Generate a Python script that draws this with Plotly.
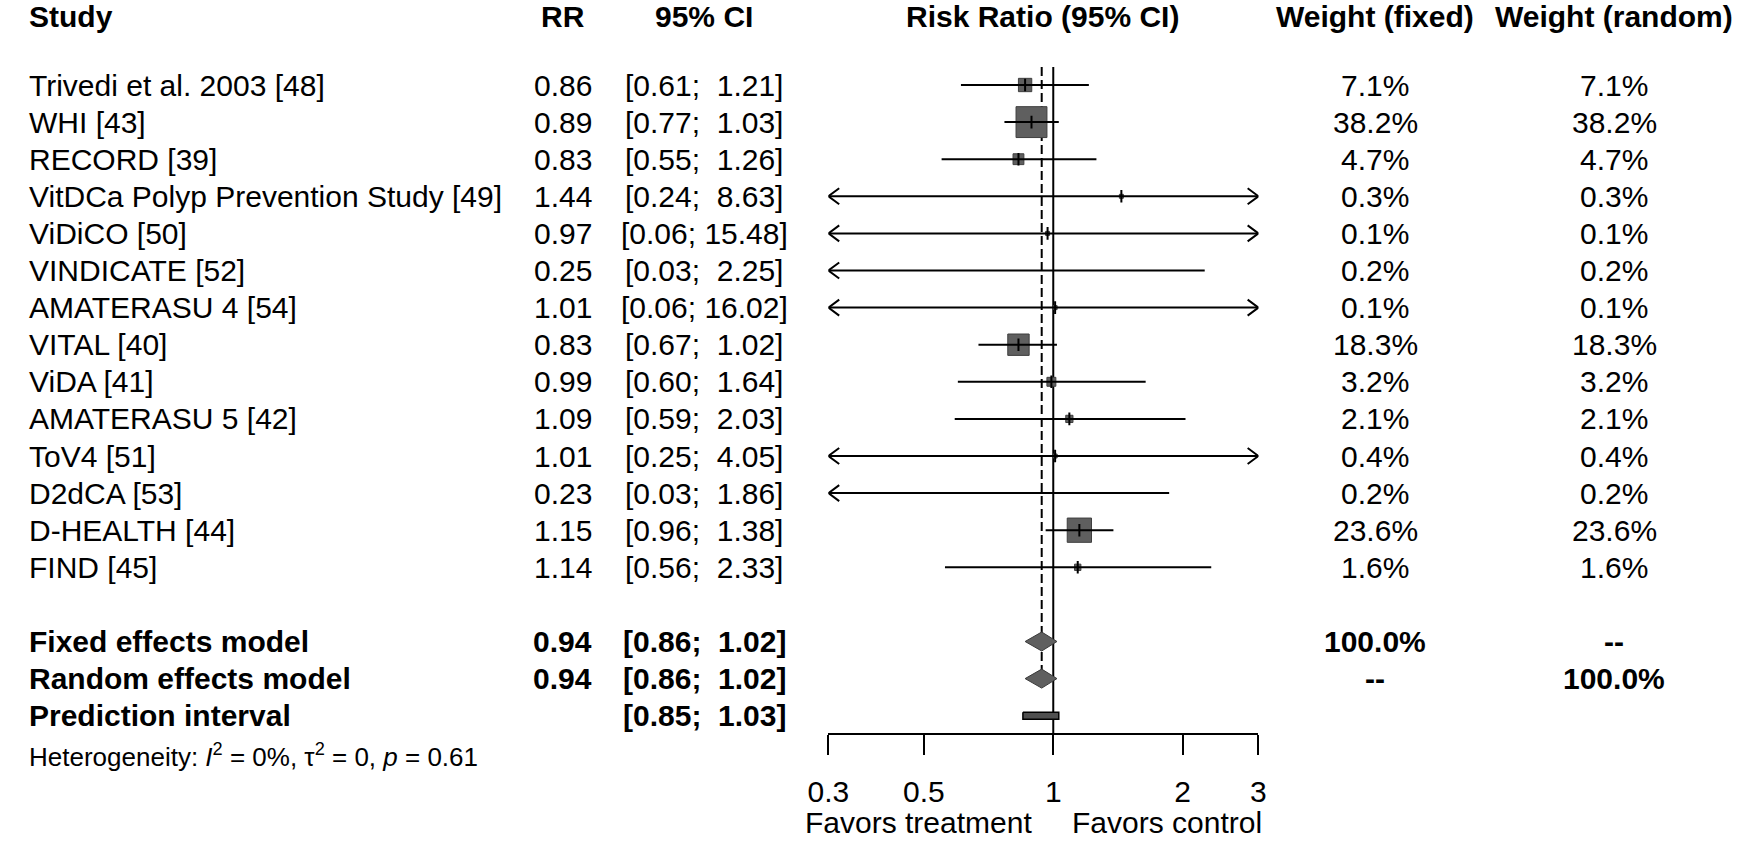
import math
import plotly.graph_objects as go

# ---------------- data ----------------
studies = ["Trivedi et al. 2003 [48]", "WHI [43]", "RECORD [39]",
           "VitDCa Polyp Prevention Study [49]", "ViDiCO [50]", "VINDICATE [52]",
           "AMATERASU 4 [54]", "VITAL [40]", "ViDA [41]", "AMATERASU 5 [42]",
           "ToV4 [51]", "D2dCA [53]", "D-HEALTH [44]", "FIND [45]"]
rr = [0.86, 0.89, 0.83, 1.44, 0.97, 0.25, 1.01, 0.83, 0.99, 1.09, 1.01, 0.23, 1.15, 1.14]
ci_low = [0.61, 0.77, 0.55, 0.24, 0.06, 0.03, 0.06, 0.67, 0.60, 0.59, 0.25, 0.03, 0.96, 0.56]
ci_high = [1.21, 1.03, 1.26, 8.63, 15.48, 2.25, 16.02, 1.02, 1.64, 2.03, 4.05, 1.86, 1.38, 2.33]
w_fixed = [7.1, 38.2, 4.7, 0.3, 0.1, 0.2, 0.1, 18.3, 3.2, 2.1, 0.4, 0.2, 23.6, 1.6]
w_random = [7.1, 38.2, 4.7, 0.3, 0.1, 0.2, 0.1, 18.3, 3.2, 2.1, 0.4, 0.2, 23.6, 1.6]

summary_labels = ["Fixed effects model", "Random effects model", "Prediction interval"]
fixed_est, fixed_low, fixed_high = 0.94, 0.86, 1.02
random_est, random_low, random_high = 0.94, 0.86, 1.02
pred_low, pred_high = 0.85, 1.03
summary_wfixed = ["100.0%", "--"]
summary_wrandom = ["--", "100.0%"]

headers = ["Study", "RR", "95% CI", "Risk Ratio (95% CI)", "Weight (fixed)", "Weight (random)"]
tick_vals = [0.3, 0.5, 1, 2, 3]
tick_text = ["0.3", "0.5", "1", "2", "3"]
x_min, x_max = 0.3, 3
ref_value = 1
label_left, label_right = "Favors treatment", "Favors control"
het_text = "Heterogeneity: <i>I</i><sup>2</sup> = 0%, \u03c4<sup>2</sup> = 0, <i>p</i> = 0.61"

# ---------------- layout constants (page pixels) ----------------
W, H = 1750, 842
ROW0 = 85.0                  # y of first study row
ROWH = 37.1                  # row spacing
AXIS_Y = 733.3               # y of x-axis line
PX_L, PX_R = 821.0, 1258.3   # x of axis ends
FONT = "Liberation Sans, Arial, sans-serif"
FS = 30
SQ_COL = "#5f5f5f"


def row_of(py):
    return 1 + (py - ROW0) / ROWH


def row_px(r):
    return ROW0 + (r - 1) * ROWH


def fx(px):
    return px / W


def fy(py):
    return 1 - py / H


px_per_dec = (PX_R - PX_L) / (math.log10(x_max) - math.log10(x_min))

fig = go.Figure()

n = len(studies)
rows = list(range(1, n + 1))
r_fixed, r_random, r_pred = n + 2, n + 3, n + 4

# reference lines
fig.add_trace(go.Scatter(x=[ref_value, ref_value], y=[row_of(67), row_of(AXIS_Y)], mode="lines",
                         line=dict(color="black", width=2), hoverinfo="skip"))
fig.add_trace(go.Scatter(x=[fixed_est, fixed_est], y=[row_of(67), r_random + 0.25], mode="lines",
                         line=dict(color="black", width=2, dash="9px,4px"), hoverinfo="skip"))

# squares (size ~ sqrt of weight)
sx, sy, ss = [], [], []
for i in range(n):
    if x_min <= rr[i] <= x_max:
        sx.append(rr[i]); sy.append(rows[i]); ss.append(max(4.0, 5.0 * math.sqrt(w_fixed[i])))
fig.add_trace(go.Scatter(x=sx, y=sy, mode="markers",
                         marker=dict(symbol="square", size=ss, color=SQ_COL, opacity=1,
                                     line=dict(color="#3f3f3f", width=1)), hoverinfo="skip"))

# CI lines with arrows where clipped
lx, ly = [], []
f = 10 ** (11 / px_per_dec)
ah = 8 / ROWH
for i in range(n):
    lo = max(ci_low[i], x_min)
    hi = min(ci_high[i], x_max)
    lx += [lo, hi, None]; ly += [rows[i], rows[i], None]
    if ci_low[i] < x_min:
        lx += [x_min * f, x_min, x_min * f, None]
        ly += [rows[i] - ah, rows[i], rows[i] + ah, None]
    if ci_high[i] > x_max:
        lx += [x_max / f, x_max, x_max / f, None]
        ly += [rows[i] - ah, rows[i], rows[i] + ah, None]
fig.add_trace(go.Scatter(x=lx, y=ly, mode="lines", line=dict(color="black", width=2),
                         hoverinfo="skip"))

# point estimate ticks
fig.add_trace(go.Scatter(x=sx, y=sy, mode="markers",
                         marker=dict(symbol="line-ns", size=9, line=dict(color="black", width=2)),
                         hoverinfo="skip"))

# diamonds
dh = 9.5 / ROWH
for est, lo, hi, r in [(fixed_est, fixed_low, fixed_high, r_fixed),
                       (random_est, random_low, random_high, r_random)]:
    fig.add_trace(go.Scatter(x=[lo, est, hi, est, lo], y=[r, r - dh, r, r + dh, r],
                             mode="lines", fill="toself", fillcolor=SQ_COL,
                             line=dict(color="#3a3a3a", width=1), hoverinfo="skip"))

# prediction interval
ph = 3.5 / ROWH
fig.add_trace(go.Scatter(x=[pred_low, pred_high, pred_high, pred_low, pred_low],
                         y=[r_pred - ph, r_pred - ph, r_pred + ph, r_pred + ph, r_pred - ph],
                         mode="lines", fill="toself", fillcolor="#505050",
                         line=dict(color="black", width=1.5), hoverinfo="skip"))

# ---------------- text ----------------
ann = []


def txt(x, py, s, anchor="center", size=FS, bold=False, xref="paper", xshift=0):
    ann.append(dict(x=fx(x) if xref == "paper" else x, y=fy(py), xref=xref, yref="paper",
                    text=("<b>%s</b>" % s) if bold else s, showarrow=False,
                    xanchor=anchor, yanchor="middle", xshift=xshift,
                    font=dict(family=FONT, size=size, color="black")))


hpx = 17
col_study, col_rr, col_ci, col_plot, col_wf, col_wr = 6, 551, 695, 1039, 1377, 1620
txt(col_study, hpx, headers[0], "left", bold=True)
txt(col_rr, hpx, headers[1], bold=True)
txt(col_ci, hpx, headers[2], bold=True)
txt(col_plot, hpx, headers[3], bold=True)
txt(col_wf, hpx, headers[4], bold=True)
txt(col_wr, hpx, headers[5], bold=True)


def ci_str(lo, hi):
    return ("[%.2f; %5.2f]" % (lo, hi)).replace(" ", "\u00a0")


for i in range(n):
    p = row_px(rows[i])
    txt(col_study, p, studies[i], "left")
    txt(col_rr, p, "%.2f" % rr[i])
    txt(col_ci, p, ci_str(ci_low[i], ci_high[i]))
    txt(col_wf, p, "%.1f%%" % w_fixed[i])
    txt(col_wr, p, "%.1f%%" % w_random[i])

for k, (est, lo, hi, r) in enumerate([(fixed_est, fixed_low, fixed_high, r_fixed),
                                      (random_est, random_low, random_high, r_random)]):
    p = row_px(r)
    txt(col_study, p, summary_labels[k], "left", bold=True)
    txt(col_rr, p, "%.2f" % est, bold=True)
    txt(col_ci, p, ci_str(lo, hi), bold=True)
    txt(col_wf, p, summary_wfixed[k], bold=True)
    txt(col_wr, p, summary_wrandom[k], bold=True)
p = row_px(r_pred)
txt(col_study, p, summary_labels[2], "left", bold=True)
txt(col_ci, p, ci_str(pred_low, pred_high), bold=True)

txt(col_study, 755, het_text, "left", size=26)

# favour labels anchored at the reference value on the log axis
txt(math.log10(ref_value), 822, label_left, "right", xref="x", xshift=-19)
txt(math.log10(ref_value), 822, label_right, "left", xref="x", xshift=17)

fig.update_layout(
    width=W, height=H, margin=dict(l=0, r=0, t=0, b=0),
    paper_bgcolor="white", plot_bgcolor="white", showlegend=False,
    annotations=ann,
    xaxis=dict(type="log", range=[math.log10(x_min), math.log10(x_max)],
               domain=[fx(PX_L), fx(PX_R)], tickvals=tick_vals, ticktext=tick_text,
               ticks="outside", ticklen=20, tickwidth=2, tickcolor="black",
               showline=True, linewidth=2, linecolor="black", showgrid=False,
               zeroline=False, ticklabelstandoff=11,
               tickfont=dict(family=FONT, size=FS, color="black")),
    yaxis=dict(range=[row_of(AXIS_Y), row_of(0)], domain=[fy(AXIS_Y), 1],
               visible=False, showgrid=False, zeroline=False),
)

fig.write_html("out.html", config={"displayModeBar": False},
               post_script="document.body.style.margin='0';document.body.style.overflow='hidden';")
